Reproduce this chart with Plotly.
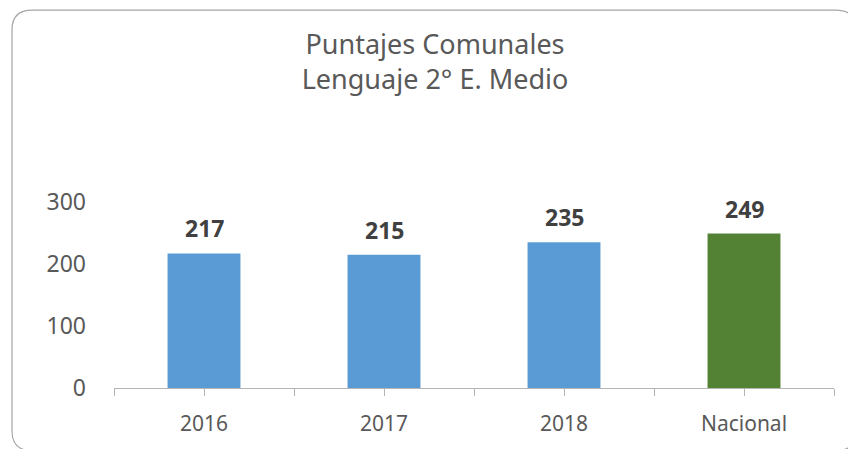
import plotly.graph_objects as go

categories = ["2016", "2017", "2018", "Nacional"]
scores = [217, 215, 235, 249]
bar_colors = ["#5B9BD5", "#5B9BD5", "#5B9BD5", "#548235"]
y_ticks = [0, 100, 200, 300]

TEXT_GRAY = "#595959"
LABEL_GRAY = "#404040"
AXIS_GRAY = "#B4B4B4"
FONT = "Noto Sans"

W, H = 848, 449
L, R, T, B = 114, 14, 202, 57
pw, ph = W - L - R, H - T - B


def px(x):
    return (x - L) / pw


def py(y):
    return (H - B - y) / ph


pos = list(range(len(categories)))

# ticks at every category boundary and centre, labels only at centres
tick_vals, tick_text = [-0.5], [""]
for i, cat in zip(pos, categories):
    tick_vals += [i, i + 0.5]
    tick_text += [cat, ""]

fig = go.Figure()
fig.add_trace(
    go.Bar(
        x=pos,
        y=scores,
        marker=dict(color=bar_colors, line=dict(width=0)),
        width=0.405,
        customdata=categories,
        hovertemplate="%{customdata}: %{y}<extra></extra>",
    )
)

for i, val in zip(pos, scores):
    fig.add_annotation(
        x=i,
        y=val,
        text=f"<b>{val}</b>",
        showarrow=False,
        yanchor="bottom",
        yshift=7,
        font=dict(family=FONT, size=23, color=LABEL_GRAY),
    )

# rounded chart border
x0, x1 = px(12), px(856)
y0, y1 = py(6), py(456)
rx, ry = 20 / pw, 20 / ph
path = (
    f"M {x0 + rx},{y0} L {x1 - rx},{y0} Q {x1},{y0} {x1},{y0 - ry} "
    f"L {x1},{y1 + ry} Q {x1},{y1} {x1 - rx},{y1} "
    f"L {x0 + rx},{y1} Q {x0},{y1} {x0},{y1 + ry} "
    f"L {x0},{y0 - ry} Q {x0},{y0} {x0 + rx},{y0} Z"
)
fig.add_shape(type="path", path=path, xref="paper", yref="paper",
              line=dict(color="#A6A6A6", width=1.2))

fig.update_layout(
    width=W,
    height=H,
    margin=dict(l=L, r=R, t=T, b=B),
    paper_bgcolor="white",
    plot_bgcolor="white",
    showlegend=False,
    title=dict(
        text="Puntajes Comunales<br>Lenguaje 2° E. Medio",
        x=0.513,
        xanchor="center",
        y=1 - 54 / H,
        yanchor="top",
        yref="container",
        font=dict(family=FONT, size=27, color=TEXT_GRAY),
    ),
    xaxis=dict(
        range=[-0.5, len(categories) - 0.5],
        tickmode="array",
        tickvals=tick_vals,
        ticktext=tick_text,
        showline=True,
        linecolor=AXIS_GRAY,
        linewidth=1.3,
        ticks="outside",
        ticklen=7,
        tickwidth=1.3,
        tickcolor=AXIS_GRAY,
        ticklabelstandoff=10,
        tickfont=dict(family=FONT, size=21, color=TEXT_GRAY),
        showgrid=False,
        zeroline=False,
    ),
    yaxis=dict(
        range=[0, 300],
        tickvals=y_ticks,
        showline=False,
        showgrid=False,
        zeroline=False,
        ticks="",
        ticklabelstandoff=27,
        tickfont=dict(family=FONT, size=23, color=TEXT_GRAY),
    ),
)

fig.write_html(
    "out.html",
    config={"displayModeBar": False},
    post_script="document.body.style.margin='0px';",
)
